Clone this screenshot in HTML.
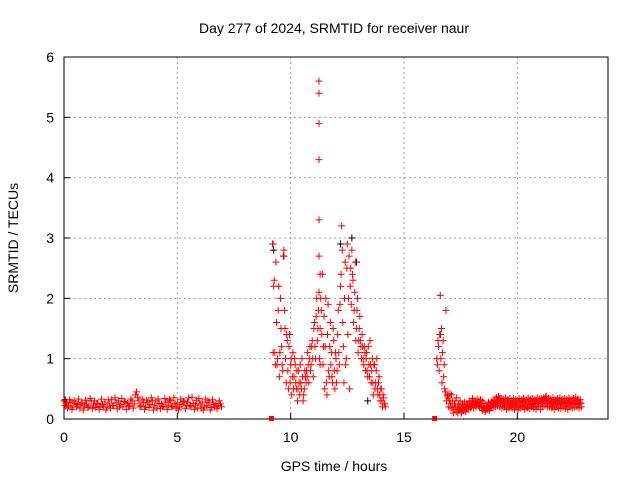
<!DOCTYPE html>
<html><head><meta charset="utf-8"><style>
body{margin:0;background:#fff}
svg text{font-family:"Liberation Sans",sans-serif;font-size:14px;fill:#000}
</style></head><body>
<svg id="c" width="640" height="480">
<text x="334" y="33" text-anchor="middle">Day 277 of 2024, SRMTID for receiver naur</text>
<text x="334" y="471" text-anchor="middle">GPS time / hours</text>
<text transform="translate(18,238) rotate(-90)" text-anchor="middle">SRMTID / TECUs</text>
<g id="grid"></g><g id="axes"></g><g id="marks"></g>
</svg>
<script>
const xTicks=[0,5,10,15,20];
const yTicks=[0,1,2,3,4,5,6];
const seg1Start=0, seg1Step=0.1;
const seg1Vals=[0.3,0.25,0.22,0.28,0.2,0.26,0.24,0.18,0.27,0.22,0.25,0.2,0.3,0.23,0.19,0.26,0.21,0.24,0.28,0.2,0.25,0.32,0.22,0.27,0.3,0.24,0.2,0.28,0.26,0.22,0.3,0.25,0.45,0.3,0.22,0.27,0.2,0.28,0.24,0.3,0.22,0.18,0.26,0.25,0.2,0.28,0.23,0.3,0.21,0.25,0.27,0.2,0.24,0.29,0.22,0.35,0.2,0.26,0.23,0.18,0.25,0.28,0.2,0.22,0.27,0.19,0.24,0.26,0.22,0.25];
const seg1bStart=0.05, seg1bStep=0.1;
const seg1bVals=[0.22,0.18,0.32,0.16,0.3,0.2,0.33,0.25,0.15,0.31,0.19,0.34,0.17,0.3,0.26,0.16,0.33,0.2,0.15,0.32,0.18,0.22,0.35,0.17,0.2,0.34,0.29,0.16,0.21,0.33,0.18,0.4,0.36,0.2,0.33,0.16,0.31,0.19,0.35,0.15,0.3,0.33,0.17,0.21,0.34,0.16,0.32,0.2,0.35,0.18,0.15,0.33,0.3,0.17,0.28,0.22,0.36,0.16,0.31,0.34,0.18,0.15,0.33,0.3,0.15,0.32,0.2,0.17,0.3,0.2];
const seg2Start=9.2, seg2Step=0.05;
const seg2Vals=[2.9,2.2,1.1,2.6,0.9,1.8,0.7,2.0,1.2,0.8,2.8,1.5,0.6,1.3,0.5,1.4,0.9,0.4,1.1,0.7,0.9,0.5,0.3,0.8,0.4,0.6,1.0,0.3,0.5,0.7,0.8,1.1,0.6,1.2,0.9,1.3,0.7,1.6,1.0,2.0,1.5,2.1,0.9,1.8,2.4,1.2,0.5,2.0,0.4,1.9,0.7,1.6,1.1,0.6,1.3,0.5,1.0,0.8,1.8,0.9,2.2,3.2,1.6,0.6,2.6,1.0,2.9,2.0,0.5,2.5,2.8,2.3,1.8,2.6,1.5,2.0,1.3,1.7,1.2,1.4,1.0,1.2,0.8,1.1,0.7,0.9,1.3,0.6,1.0,0.4,0.9,0.6,1.0,0.4,0.7,0.3,0.5,0.2,0.35,0.25];
const seg2bStart=9.225, seg2bStep=0.05;
const seg2bVals=[1.1,2.3,0.9,1.6,1.0,2.2,1.1,1.5,0.9,2.7,1.8,1.0,1.4,0.8,1.2,0.6,1.0,0.7,0.5,1.0,0.6,0.8,0.5,0.6,0.9,0.5,0.7,0.4,0.8,0.6,0.7,0.9,1.0,0.8,1.2,1.0,1.5,1.2,1.7,1.3,1.8,1.0,2.0,1.4,0.9,1.7,1.2,0.6,1.4,0.8,1.2,0.9,0.7,1.5,0.8,1.1,0.6,1.4,1.1,1.9,2.4,2.8,1.2,2.0,0.9,2.5,1.4,2.7,2.2,1.9,2.4,1.6,2.1,1.3,1.8,1.1,1.5,1.3,1.0,1.2,0.9,1.1,1.0,0.8,1.2,0.7,0.9,0.8,0.6,0.9,0.5,0.8,0.5,0.6,0.4,0.5,0.3,0.4,0.25,0.2];
const spikeT=[11.25,11.25,11.25,11.25,11.25,11.25,11.3,11.3];
const spikeV=[5.6,5.4,4.9,4.3,3.3,2.7,2.4,1.5];
const seg3Start=16.45, seg3Step=0.05;
const seg3Vals=[1.0,1.3,0.8,2.05,1.5,1.1,0.7,0.5,1.8,0.4,0.35,0.3,0.25,0.4,0.2,0.15,0.3,0.12,0.2,0.25,0.15,0.18,0.12,0.22,0.15,0.2,0.18,0.25,0.2,0.22,0.28,0.25,0.3,0.24,0.27,0.25,0.28,0.3,0.22,0.26,0.3,0.2,0.18,0.15,0.2,0.22,0.18,0.25,0.2,0.27,0.24,0.3,0.25,0.32,0.28,0.35,0.26,0.3,0.25,0.28,0.22,0.3,0.25,0.28,0.2,0.26,0.3,0.24,0.28,0.22,0.25,0.3,0.2,0.28,0.25,0.32,0.22,0.27,0.25,0.3,0.2,0.28,0.24,0.3,0.26,0.22,0.28,0.25,0.3,0.22,0.26,0.3,0.25,0.28,0.32,0.3,0.35,0.26,0.28,0.3,0.25,0.28,0.22,0.26,0.3,0.25,0.28,0.24,0.3,0.25,0.27,0.3,0.25,0.28,0.22,0.26,0.3,0.25,0.28,0.24,0.26,0.3,0.25,0.28,0.3,0.24,0.28,0.26];
const seg3bStart=16.475, seg3bStep=0.05;
const seg3bVals=[0.9,1.2,1.4,1.0,0.6,1.3,0.9,0.45,0.3,0.38,0.2,0.42,0.18,0.3,0.1,0.25,0.2,0.35,0.1,0.16,0.3,0.1,0.24,0.14,0.28,0.12,0.24,0.16,0.3,0.18,0.2,0.34,0.18,0.3,0.2,0.33,0.22,0.2,0.32,0.18,0.14,0.26,0.12,0.2,0.16,0.28,0.14,0.2,0.3,0.18,0.32,0.2,0.36,0.22,0.38,0.2,0.34,0.18,0.33,0.2,0.35,0.16,0.32,0.18,0.34,0.2,0.18,0.34,0.16,0.32,0.2,0.15,0.34,0.18,0.3,0.2,0.34,0.16,0.32,0.18,0.35,0.17,0.33,0.2,0.34,0.18,0.32,0.16,0.35,0.2,0.33,0.16,0.34,0.2,0.36,0.22,0.38,0.2,0.34,0.2,0.33,0.18,0.35,0.16,0.32,0.2,0.34,0.18,0.35,0.17,0.33,0.2,0.34,0.18,0.32,0.16,0.35,0.2,0.33,0.18,0.34,0.2,0.36,0.2,0.33,0.18,0.32,0.2];
const blackT=[0.05,0.1,9.22,9.25,9.7,12.2,12.7,12.9,13.4,16.6];
const blackV=[0.32,0.28,2.9,2.8,2.7,2.9,3.0,2.6,0.3,1.4];
const zeroT=[9.15,16.35];
const zeroV=[0,0];

const X0=64,X1=608,Y0=419,Y1=57,XMAX=24,YMAX=6;
const sx=t=>X0+t/XMAX*(X1-X0), sy=v=>Y0-v/YMAX*(Y0-Y1);
const NS='http://www.w3.org/2000/svg';
function mk(tag,attrs,parent){const e=document.createElementNS(NS,tag);for(const k in attrs)e.setAttribute(k,attrs[k]);document.getElementById(parent).appendChild(e);return e;}
xTicks.forEach(t=>{
 const x=sx(t);
 if(t>0){const g=mk('line',{x1:x,y1:Y1,x2:x,y2:Y0,stroke:'#a0a0a0','stroke-dasharray':'2,3'},'grid');
 
 }
 const k=mk('line',{x1:x,y1:Y0,x2:x,y2:Y0-6,stroke:'#000'},'axes');
 
 
 const l=mk('text',{x:x,y:Y0+23,'text-anchor':'middle'},'axes');l.textContent=t;
 
 
});
yTicks.forEach(v=>{
 const y=sy(v);
 if(v>0&&v<6){const g=mk('line',{x1:X0,y1:y,x2:X1,y2:y,stroke:'#a0a0a0','stroke-dasharray':'2,3'},'grid');
 
 }
 const k=mk('line',{x1:X0,y1:y,x2:X0+6,y2:y,stroke:'#000'},'axes');
 
 
 const l=mk('text',{x:X0-10,y:y+5,'text-anchor':'end'},'axes');l.textContent=v;
 
 
});
const fr=mk('rect',{x:X0,y:Y1,width:X1-X0,height:Y0-Y1,fill:'none',stroke:'#000'},'axes');


function plus(t,v,col,name){
 const x=sx(t),y=sy(v);
 const p=mk('path',{d:`M${x-3.5},${y}h7M${x},${y-3.5}v7`,stroke:col,'stroke-width':1,fill:'none'},'marks');
 
 
}
blackT.forEach((t,i)=>plus(t,blackV[i],'#000','black-point'));
seg1Vals.forEach((v,i)=>plus(seg1Start+i*seg1Step,v,'#f00','red-point'));
seg1bVals.forEach((v,i)=>plus(seg1bStart+i*seg1bStep,v,'#f00','red-point'));
seg2Vals.forEach((v,i)=>plus(seg2Start+i*seg2Step,v,'#f00','red-point'));
seg2bVals.forEach((v,i)=>plus(seg2bStart+i*seg2bStep,v,'#f00','red-point'));
spikeT.forEach((t,i)=>plus(t,spikeV[i],'#f00','red-point'));
seg3Vals.forEach((v,i)=>plus(seg3Start+i*seg3Step,v,'#f00','red-point'));
seg3bVals.forEach((v,i)=>plus(seg3bStart+i*seg3bStep,v,'#f00','red-point'));
zeroT.forEach((t,i)=>{
 const r=mk('rect',{x:sx(t)-2.5,y:sy(zeroV[i])-3,width:5,height:5,fill:'#f00'},'marks');
 
 
});
</script>
</body></html>
